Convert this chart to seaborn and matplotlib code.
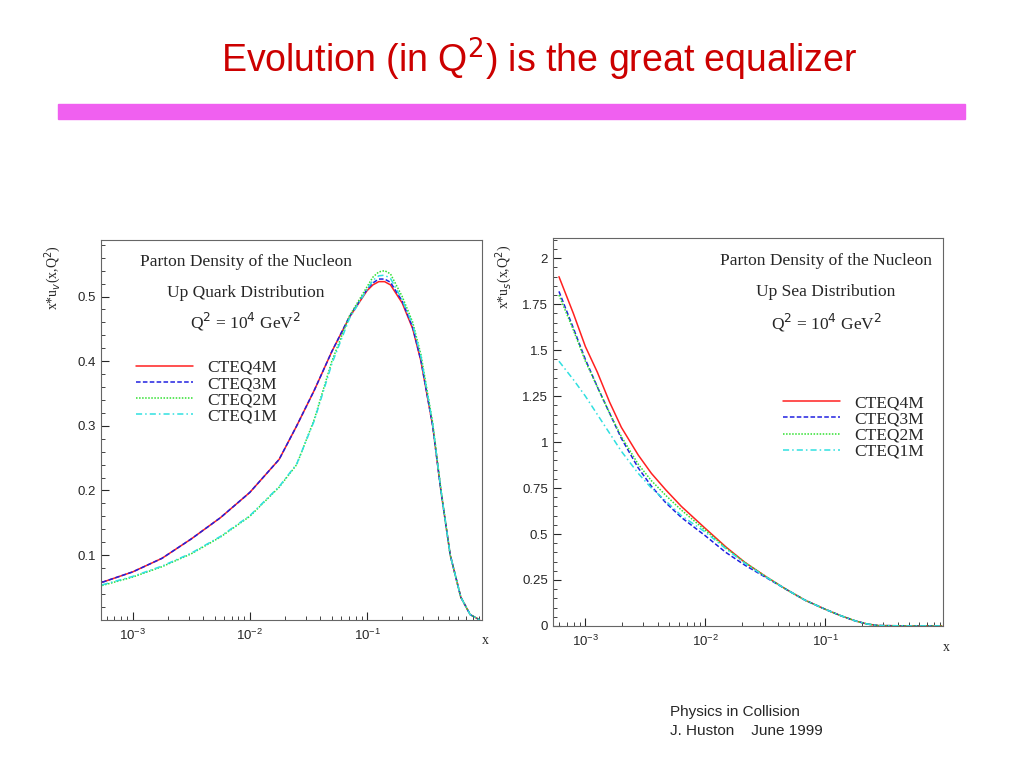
import numpy as np
import pandas as pd
import matplotlib
matplotlib.use("Agg")
import matplotlib.pyplot as plt
import seaborn as sns

# ---- data (log10 x, value) ----
uv_logx = [-3.26, -3.0, -2.75, -2.5, -2.25, -2.0, -1.75, -1.6, -1.45, -1.3, -1.15, -1.0, -0.95, -0.9, -0.85, -0.8,
           -0.7, -0.61, -0.54, -0.44, -0.37, -0.29, -0.2, -0.12, -0.04]
uv_4M = [0.058, 0.074, 0.095, 0.125, 0.158, 0.197, 0.248, 0.300, 0.355, 0.415, 0.468, 0.509, 0.518, 0.523, 0.523, 0.518,
         0.490, 0.450, 0.400, 0.300, 0.200, 0.100, 0.035, 0.008, 0.0]
uv_3M = [0.058, 0.074, 0.095, 0.125, 0.158, 0.197, 0.248, 0.300, 0.355, 0.415, 0.469, 0.511, 0.521, 0.527, 0.527, 0.522,
         0.493, 0.452, 0.401, 0.300, 0.200, 0.100, 0.035, 0.008, 0.0]
uv_2M = [0.053, 0.066, 0.082, 0.102, 0.128, 0.160, 0.205, 0.240, 0.310, 0.400, 0.470, 0.515, 0.530, 0.538, 0.540, 0.535,
         0.500, 0.460, 0.410, 0.305, 0.202, 0.100, 0.035, 0.008, 0.0]
uv_1M = [0.054, 0.067, 0.083, 0.103, 0.129, 0.161, 0.206, 0.241, 0.308, 0.396, 0.466, 0.511, 0.525, 0.532, 0.533, 0.528,
         0.495, 0.456, 0.407, 0.303, 0.201, 0.100, 0.035, 0.008, 0.0]

us_logx = [-3.22, -3.1, -3.0, -2.9, -2.8, -2.7, -2.56, -2.45, -2.33, -2.2, -2.0, -1.83, -1.67, -1.5,
           -1.33, -1.17, -1.0, -0.87, -0.75, -0.65, -0.56, -0.3, -0.03]
us_4M = [1.90, 1.70, 1.52, 1.38, 1.22, 1.08, 0.93, 0.83, 0.74, 0.65, 0.53, 0.43, 0.345, 0.27,
         0.20, 0.14, 0.09, 0.055, 0.027, 0.01, 0.002, 0.0, 0.0]
us_3M = [1.82, 1.62, 1.45, 1.30, 1.16, 1.02, 0.86, 0.76, 0.67, 0.59, 0.49, 0.40, 0.33, 0.265,
         0.20, 0.14, 0.09, 0.055, 0.027, 0.01, 0.002, 0.0, 0.0]
us_2M = [1.80, 1.61, 1.44, 1.30, 1.16, 1.03, 0.88, 0.79, 0.71, 0.63, 0.52, 0.425, 0.345, 0.27,
         0.20, 0.14, 0.09, 0.055, 0.027, 0.01, 0.002, 0.0, 0.0]
us_1M = [1.44, 1.34, 1.25, 1.15, 1.05, 0.95, 0.83, 0.75, 0.68, 0.60, 0.51, 0.42, 0.34, 0.268,
         0.20, 0.14, 0.09, 0.055, 0.027, 0.01, 0.002, 0.0, 0.0]

labels = ["CTEQ4M", "CTEQ3M", "CTEQ2M", "CTEQ1M"]
colors = ["#ff2020", "#2020e0", "#30e030", "#30e0e0"]
styles = ["-", (0, (3, 1.5)), (0, (1, 1)), (0, (4, 2, 1, 2))]

sns.set_style("ticks")
plt.rcParams["font.family"] = ["Liberation Sans", "DejaVu Sans"]

fig = plt.figure(figsize=(10.24, 7.68), dpi=100)
fig.text(0.527, 0.922, r"Evolution (in Q$^2$) is the great equalizer", color="#cc0000",
         fontsize=27, ha="center", va="center")
fig.patches.append(plt.Rectangle((0.057, 0.845), 0.885, 0.02, transform=fig.transFigure,
                                 color="#f060f0", zorder=0))
fig.text(0.654, 0.061, "Physics in Collision\nJ. Huston    June 1999", fontsize=11,
         ha="left", va="center", linespacing=1.45)


def draw(ax, logx, series, ylim, yticks, yticklabels, ylabel, title2, legpos, txtx):
    for vals, lab, c, ls in zip(series, labels, colors, styles):
        df = pd.DataFrame({"x": 10.0 ** np.array(logx), "y": vals})
        sns.lineplot(data=df, x="x", y="y", ax=ax, color=c, linestyle=ls, lw=1.1, label=lab)
    ax.set_xscale("log")
    ax.set_xlim(10 ** -3.27, 10 ** -0.02)
    ax.set_ylim(*ylim)
    ax.set_yticks(yticks)
    ax.set_yticklabels(yticklabels)
    ax.set_xlabel("")
    ax.set_ylabel(ylabel, fontsize=10, family="Liberation Serif")
    ax.yaxis.set_label_coords(-0.1, 0.9)
    ax.text(1.0, -0.065, "x", transform=ax.transAxes, fontsize=10, family="Liberation Serif")
    ax.tick_params(direction="in", which="both", labelsize=9.5, length=6)
    ax.tick_params(which="minor", length=3)
    ax.tick_params(axis="x", pad=6)
    for s in ax.spines.values():
        s.set_color("#666666")
        s.set_linewidth(0.8)
    serif = dict(family="Liberation Serif", fontsize=12.5, transform=ax.transAxes, ha="center")
    ax.text(txtx, 0.93, "Parton Density of the Nucleon", **serif)
    ax.text(txtx, 0.85, title2, **serif)
    ax.text(txtx, 0.765, r"Q$^2$ = 10$^4$ GeV$^2$", **serif)
    ax.legend(loc="upper left", bbox_to_anchor=legpos, frameon=False, handlelength=3.3,
              prop={"family": "Liberation Serif", "size": 12.5}, labelspacing=0.0)


ax1 = fig.add_axes([0.0986, 0.193, 0.372, 0.495])
draw(ax1, uv_logx, [uv_4M, uv_3M, uv_2M, uv_1M], (0, 0.588),
     [0.1, 0.2, 0.3, 0.4, 0.5], ["0.1", "0.2", "0.3", "0.4", "0.5"],
     r"x*u$_v$(x,Q$^2$)", "Up Quark Distribution", (0.05, 0.725), 0.38)
ax1.minorticks_on()

ax2 = fig.add_axes([0.540, 0.185, 0.381, 0.505])
draw(ax2, us_logx, [us_4M, us_3M, us_2M, us_1M], (0, 2.11),
     [0, 0.25, 0.5, 0.75, 1, 1.25, 1.5, 1.75, 2],
     ["0", "0.25", "0.5", "0.75", "1", "1.25", "1.5", "1.75", "2"],
     r"x*u$_s$(x,Q$^2$)", "Up Sea Distribution", (0.55, 0.635), 0.7)
ax2.minorticks_on()

fig.savefig("out.png", dpi=100)
